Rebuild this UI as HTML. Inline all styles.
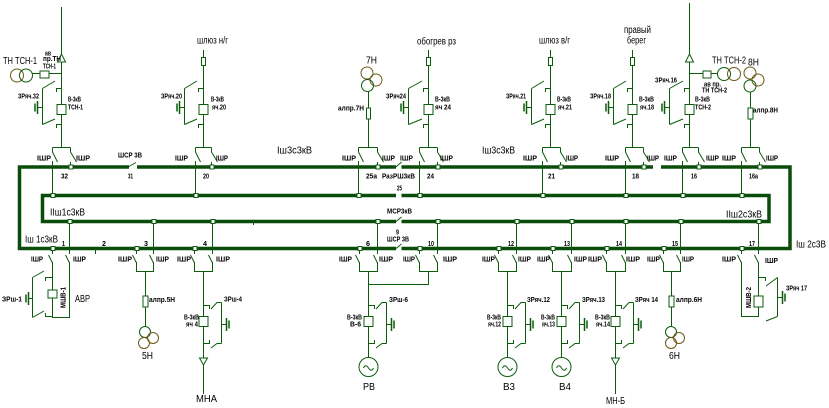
<!DOCTYPE html>
<html><head><meta charset="utf-8">
<style>
html,body{margin:0;padding:0;background:#fff;}
svg{display:block}
.s{font-family:"Liberation Sans",sans-serif;font-size:7px;font-weight:bold;fill:#000}
.m{font-family:"Liberation Sans",sans-serif;font-size:10px;fill:#000}
</style></head><body>
<svg width="829" height="408" viewBox="0 0 829 408" xmlns="http://www.w3.org/2000/svg">
<rect width="829" height="408" fill="#fff"/>

<!-- BUSES -->
<g fill="none" stroke="#0a4d0a" stroke-width="3.5">
 <path d="M129,167 H19.5 V248.5 H396"/>
 <path d="M137,167 H396"/>
 <path d="M401.5,167 H653"/>
 <path d="M661,167 H790 V248.5 H401.5"/>
 <path d="M396,195.5 H42.5 V221.5 H396"/>
 <path d="M401.5,195.5 H769 V221.5 H401.5"/>
</g>

<!-- THIN LINES -->
<g fill="none" stroke="#0c5c0c" stroke-width="1">
 <!-- bus switches -->
 <path d="M128,167 L136,162.5 M396,167 L401.5,162 M396,221.5 L401.5,217 M396,248.5 L401.5,244 M95.5,249 V254 M253.5,221 V225"/>

 <!-- T1 -->
 <path d="M61.5,7 V147.5 M61.5,73.5 H32.5 M56.5,92 V88.5 H61 M56.5,128 V124.5 H61 M42.5,88.5 L55,81 M42.5,124.5 L55,119 M42.5,88.5 V124.5 M37,107.5 H42.5 M52.5,147.5 H70.5 M52.5,147.5 V152 L57.5,162 M70.5,147.5 V152 L76.5,162 M52.5,161 V195 M70.5,162 V167"/>
 <!-- T2 -->
 <path d="M203.5,50 V147.5 M198.5,92 V88.5 H203 M198.5,128 V124.5 H203 M184.5,88.5 L197,81 M184.5,124.5 L197,119 M184.5,88.5 V124.5 M179,107.5 H184.5 M195.5,147.5 H211.5 M195.5,147.5 V152 L200.5,162 M211.5,147.5 V152 L217.5,162 M195.5,161 V195 M211.5,162 V167"/>
 <!-- T3 7H -->
 <path d="M368.5,91 V147.5 M358.5,147.5 H377.5 M358.5,147.5 V152 L363.5,162 M377.5,147.5 V152 L383.5,162 M358.5,161 V195 M377.5,162 V167"/>
 <!-- T4 -->
 <path d="M428.5,50 V147.5 M423.5,92 V88.5 H428 M423.5,128 V124.5 H428 M408.5,88.5 L422,81 M408.5,124.5 L422,119 M408.5,88.5 V124.5 M403,107.5 H408.5 M419.5,147.5 H437.5 M419.5,147.5 V152 L424.5,162 M437.5,147.5 V152 L443.5,162 M419.5,161 V195 M437.5,162 V167"/>
 <!-- T5 -->
 <path d="M550.5,50 V147.5 M545.5,92 V88.5 H550 M545.5,128 V124.5 H550 M531.5,88.5 L544,81 M531.5,124.5 L544,119 M531.5,88.5 V124.5 M526,107.5 H531.5 M542.5,147.5 H560.5 M542.5,147.5 V152 L547.5,162 M560.5,147.5 V152 L566.5,162 M542.5,161 V195 M560.5,162 V167"/>
 <!-- T6 -->
 <path d="M632.5,50 V147.5 M627.5,92 V88.5 H632 M627.5,128 V124.5 H632 M613.5,88.5 L626,81 M613.5,124.5 L626,119 M613.5,88.5 V124.5 M608,107.5 H613.5 M625.5,147.5 H643.5 M625.5,147.5 V152 L630.5,162 M643.5,147.5 V152 L649.5,162 M625.5,161 V195 M643.5,162 V167"/>
 <!-- T7 -->
 <path d="M689.5,3 V147.5 M689.5,73.5 H717.5 M684.5,92 V88.5 H689 M684.5,128 V124.5 H689 M669.5,88.5 L683,81 M669.5,124.5 L683,119 M669.5,88.5 V124.5 M664,107.5 H669.5 M682.5,147.5 H698.5 M682.5,147.5 V152 L687.5,162 M698.5,147.5 V152 L704.5,162 M682.5,161 V195 M698.5,162 V167"/>
 <!-- T8 8H -->
 <path d="M750.5,92 V147.5 M741.5,147.5 H759.5 M741.5,147.5 V152 L746.5,162 M759.5,147.5 V152 L765.5,162 M741.5,161 V195 M759.5,162 V167"/>

 <!-- B1 -->
 <path d="M52.5,249 V254 M48.5,255 L52.5,263 M52.5,262 V317.5 H69.5 V262 M65.5,255 L69.5,263 M69.5,222 V254 M52,277.5 H45.5 V281 M52,316.5 H45.5 V313 M32.5,277.5 L44,271 M32.5,317.5 L44,311 M32.5,277.5 V317.5 M28,298.5 H32.5"/>
 <!-- B3 5H -->
 <path d="M136.5,249 V254 M132.5,255 L136.5,263 M136.5,262 V271.5 H153.5 V262 M149.5,255 L153.5,263 M153.5,222 V254 M145.5,271.5 V326.5"/>
 <!-- B4 -->
 <path d="M194.5,249 V254 M190.5,255 L194.5,263 M194.5,262 V271.5 H212.5 V262 M208.5,255 L212.5,263 M212.5,222 V254 M203.5,271.5 V394 M203,305.5 H209.5 V309 M203,343.5 H209.5 V340 M211,309 L217,302.5 H221.5 M211,348 L217,343.5 H221.5 M221.5,302.5 V343.5 M221.5,324.5 H226"/>
 <!-- B6 -->
 <path d="M359.5,249 V254 M355.5,255 L359.5,263 M359.5,262 V271.5 H377.5 V262 M373.5,255 L377.5,263 M377.5,222 V254 M368.5,271.5 V357.5 M368.5,284.5 H428.5 V271.5 M368,305.5 H374.5 V309 M368,343.5 H374.5 V340 M376,309 L382,302.5 H386.5 M376,348 L382,343.5 H386.5 M386.5,302.5 V343.5 M386.5,324.5 H391"/>
 <!-- B10 -->
 <path d="M419.5,249 V254 M415.5,255 L419.5,263 M419.5,262 V271.5 H437.5 V262 M433.5,255 L437.5,263 M437.5,222 V254"/>
 <!-- B12 -->
 <path d="M498.5,249 V254 M494.5,255 L498.5,263 M498.5,262 V271.5 H516.5 V262 M512.5,255 L516.5,263 M516.5,222 V254 M507.5,271.5 V357.5 M507,305.5 H513.5 V309 M507,343.5 H513.5 V340 M515,309 L521,302.5 H525.5 M515,348 L521,343.5 H525.5 M525.5,302.5 V343.5 M525.5,324.5 H530"/>
 <!-- B13 -->
 <path d="M552.5,249 V254 M548.5,255 L552.5,263 M552.5,262 V271.5 H571.5 V262 M567.5,255 L571.5,263 M571.5,222 V254 M561.5,271.5 V357.5 M561,305.5 H567.5 V309 M561,343.5 H567.5 V340 M569,309 L575,302.5 H579.5 M569,348 L575,343.5 H579.5 M579.5,302.5 V343.5 M579.5,324.5 H584"/>
 <!-- B14 -->
 <path d="M606.5,249 V254 M602.5,255 L606.5,263 M606.5,262 V271.5 H625.5 V262 M621.5,255 L625.5,263 M625.5,222 V254 M615.5,271.5 V394 M615,305.5 H621.5 V309 M615,343.5 H621.5 V340 M623,309 L629,302.5 H633.5 M623,348 L629,343.5 H633.5 M633.5,302.5 V343.5 M633.5,324.5 H638"/>
 <!-- B15 6H -->
 <path d="M663.5,249 V254 M659.5,255 L663.5,263 M663.5,262 V271.5 H680.5 V262 M676.5,255 L680.5,263 M680.5,222 V254 M671.5,271.5 V326.5"/>
 <!-- B17 -->
 <path d="M741.5,249 V254 M737.5,255 L741.5,263 M741.5,262 V316.5 H758.5 V262 M754.5,255 L758.5,263 M758.5,222 V254 M758,277.5 H765.5 V281 M766,286 L777.5,277.5 M766,321 L777.5,316.5 M777.5,277.5 V316.5 M777.5,297.5 H782"/>

 <!-- generator tildes -->
 <path d="M363.5,368 c1.5,-3 3,-3 5,0 s3.5,3 5,0 M502.5,368 c1.5,-3 3,-3 5,0 s3.5,3 5,0 M556.5,368 c1.5,-3 3,-3 5,0 s3.5,3 5,0"/>
</g>

<!-- ground bars (thicker) -->
<g fill="none" stroke="#0c5c0c" stroke-width="1.5">
 <path d="M37.5,101 V114 M35,103.5 V111.5 M179.5,101 V114 M177,103.5 V111.5 M403.5,101 V114 M401,103.5 V111.5 M526.5,101 V114 M524,103.5 V111.5 M608.5,101 V114 M606,103.5 V111.5 M664.5,101 V114 M662,103.5 V111.5"/>
 <path d="M28.5,292 V305 M26,294.5 V302.5 M226.5,318 V331 M229,320.5 V328.5 M391.5,318 V331 M394,320.5 V328.5 M530.5,318 V331 M533,320.5 V328.5 M584.5,318 V331 M587,320.5 V328.5 M638.5,318 V331 M641,320.5 V328.5 M782.5,291 V304 M785,293.5 V301.5"/>
</g>

<!-- SHAPES (white filled) -->
<g fill="#fff" stroke="#0c5c0c" stroke-width="1">
 <!-- breakers top -->
 <rect x="57" y="104.5" width="9" height="10"/>
 <rect x="199" y="104.5" width="9" height="10"/>
 <rect x="424" y="104.5" width="9" height="10"/>
 <rect x="546" y="104.5" width="9" height="10"/>
 <rect x="628" y="104.5" width="9" height="10"/>
 <rect x="685" y="104.5" width="9" height="10"/>
 <!-- breakers bottom -->
 <rect x="48" y="290" width="9" height="8"/>
 <rect x="199" y="316.5" width="9" height="10"/>
 <rect x="364" y="316.5" width="9" height="10"/>
 <rect x="503" y="316.5" width="9" height="10"/>
 <rect x="557" y="316.5" width="9" height="10"/>
 <rect x="611" y="316.5" width="9" height="10"/>
 <rect x="754" y="296" width="9" height="11"/>
 <!-- fuses -->
 <rect x="40" y="71" width="9" height="7"/>
 <rect x="703" y="71" width="8" height="7"/>
 <rect x="366.5" y="108" width="4" height="11"/>
 <rect x="748" y="108" width="5" height="11"/>
 <rect x="143" y="296" width="5" height="11"/>
 <rect x="669" y="296" width="5" height="11"/>
 <!-- cable heads -->
 <rect x="201.5" y="57.5" width="4" height="8"/>
 <rect x="426.5" y="57.5" width="4" height="8"/>
 <rect x="548.5" y="57.5" width="4" height="8"/>
 <rect x="630.5" y="57.5" width="4" height="8"/>
 <!-- triangles -->
 <polygon points="57.5,62 65.5,62 61.5,54"/>
 <polygon points="685.5,62 693.5,62 689.5,54"/>
 <polygon points="199.5,358 207.5,358 203.5,365"/>
 <polygon points="611.5,358 619.5,358 615.5,365"/>
 <!-- markers top bus -->
 <rect x="69" y="165" width="4" height="4"/><rect x="210" y="165" width="4" height="4"/>
 <rect x="376" y="165" width="4" height="4"/><rect x="436" y="165" width="4" height="4"/>
 <rect x="559" y="165" width="4" height="4"/><rect x="642" y="165" width="4" height="4"/>
 <rect x="697" y="165" width="4" height="4"/><rect x="758" y="165" width="4" height="4"/>
 <!-- markers inner top -->
 <rect x="51" y="193.5" width="4" height="4"/><rect x="194" y="193.5" width="4" height="4"/>
 <rect x="357" y="193.5" width="4" height="4"/><rect x="418" y="193.5" width="4" height="4"/>
 <rect x="541" y="193.5" width="4" height="4"/><rect x="624" y="193.5" width="4" height="4"/>
 <rect x="681" y="193.5" width="4" height="4"/><rect x="740" y="193.5" width="4" height="4"/>
 <!-- markers bottom bus -->
 <rect x="51" y="246.5" width="4" height="4"/><rect x="135" y="246.5" width="4" height="4"/>
 <rect x="193" y="246.5" width="4" height="4"/><rect x="358" y="246.5" width="4" height="4"/>
 <rect x="418" y="246.5" width="4" height="4"/><rect x="497" y="246.5" width="4" height="4"/>
 <rect x="551" y="246.5" width="4" height="4"/><rect x="605" y="246.5" width="4" height="4"/>
 <rect x="662" y="246.5" width="4" height="4"/><rect x="740" y="246.5" width="4" height="4"/>
 <!-- markers inner bottom -->
 <rect x="68" y="219.5" width="4" height="4"/><rect x="152" y="219.5" width="4" height="4"/>
 <rect x="211" y="219.5" width="4" height="4"/><rect x="376" y="219.5" width="4" height="4"/>
 <rect x="436" y="219.5" width="4" height="4"/><rect x="515" y="219.5" width="4" height="4"/>
 <rect x="570" y="219.5" width="4" height="4"/><rect x="624" y="219.5" width="4" height="4"/>
 <rect x="679" y="219.5" width="4" height="4"/><rect x="757" y="219.5" width="4" height="4"/>
</g>

<!-- circles (transformers / generators) -->
<g fill="none" stroke-width="1">
 <circle cx="17" cy="75.5" r="6.5" stroke="#6b5a14"/>
 <circle cx="26" cy="75.5" r="6.5" stroke="#0c5c0c"/>
 <circle cx="724" cy="74" r="6.5" stroke="#0c5c0c"/>
 <circle cx="734" cy="74" r="6.5" stroke="#6b5a14"/>
 <circle cx="367" cy="73" r="6" stroke="#6b5a14"/>
 <circle cx="376" cy="80" r="6" stroke="#6b5a14"/>
 <circle cx="367.5" cy="85.5" r="6" stroke="#0c5c0c"/>
 <circle cx="750" cy="73" r="6" stroke="#6b5a14"/>
 <circle cx="758" cy="80" r="6" stroke="#6b5a14"/>
 <circle cx="750" cy="86" r="6" stroke="#0c5c0c"/>
 <circle cx="145" cy="332" r="5.5" stroke="#0c5c0c"/>
 <circle cx="153" cy="338" r="5.5" stroke="#6b5a14"/>
 <circle cx="144" cy="343" r="5.5" stroke="#6b5a14"/>
 <circle cx="671" cy="332" r="5.5" stroke="#0c5c0c"/>
 <circle cx="679" cy="338" r="5.5" stroke="#6b5a14"/>
 <circle cx="671" cy="343" r="5.5" stroke="#6b5a14"/>
 <circle cx="368.5" cy="367" r="9.5" stroke="#0c5c0c"/>
 <circle cx="507.5" cy="367" r="9.5" stroke="#0c5c0c"/>
 <circle cx="561.5" cy="367" r="9.5" stroke="#0c5c0c"/>
</g>

<!-- SMALL BOLD LABELS -->
<g class="s">
 <text x="18" y="98.5" textLength="21" lengthAdjust="spacingAndGlyphs">ЗРяч.32</text>
 <text x="68" y="101.5" textLength="13" lengthAdjust="spacingAndGlyphs">В-3кВ</text>
 <text x="68" y="109.5" textLength="15" lengthAdjust="spacingAndGlyphs">ТСН-1</text>
 <text x="45" y="55.5" textLength="6" lengthAdjust="spacingAndGlyphs">ав</text>
 <text x="43" y="61" textLength="18" lengthAdjust="spacingAndGlyphs">пр.ТН</text>
 <text x="43" y="68.5" textLength="13" lengthAdjust="spacingAndGlyphs">ТСН-1</text>
 <text x="161" y="98.5" textLength="21" lengthAdjust="spacingAndGlyphs">ЗРяч.20</text>
 <text x="211" y="101.5" textLength="13" lengthAdjust="spacingAndGlyphs">В-3кВ</text>
 <text x="212" y="109.5" textLength="14" lengthAdjust="spacingAndGlyphs">яч.20</text>
 <text x="338" y="110.5" textLength="26" lengthAdjust="spacingAndGlyphs">алпр.7Н</text>
 <text x="386" y="98.5" textLength="20" lengthAdjust="spacingAndGlyphs">ЗРяч24</text>
 <text x="435" y="101.5" textLength="15" lengthAdjust="spacingAndGlyphs">В-3кВ</text>
 <text x="435" y="109.5" textLength="16" lengthAdjust="spacingAndGlyphs">яч 24</text>
 <text x="506" y="98.5" textLength="20" lengthAdjust="spacingAndGlyphs">ЗРяч.21</text>
 <text x="557" y="101.5" textLength="14" lengthAdjust="spacingAndGlyphs">В-3кВ</text>
 <text x="558" y="109.5" textLength="14" lengthAdjust="spacingAndGlyphs">яч.21</text>
 <text x="590" y="98.5" textLength="21" lengthAdjust="spacingAndGlyphs">ЗРяч.18</text>
 <text x="639" y="101.5" textLength="15" lengthAdjust="spacingAndGlyphs">В-3кВ</text>
 <text x="640" y="109.5" textLength="14" lengthAdjust="spacingAndGlyphs">яч.18</text>
 <text x="655" y="82.5" textLength="22" lengthAdjust="spacingAndGlyphs">ЗРяч.16</text>
 <text x="704" y="86.5" textLength="17" lengthAdjust="spacingAndGlyphs">ав пр.</text>
 <text x="702" y="92.5" textLength="25" lengthAdjust="spacingAndGlyphs">ТН ТСН-2</text>
 <text x="695" y="101.5" textLength="15" lengthAdjust="spacingAndGlyphs">В-3кВ</text>
 <text x="695" y="109.5" textLength="16" lengthAdjust="spacingAndGlyphs">ТСН-2</text>
 <text x="753" y="112.5" textLength="25" lengthAdjust="spacingAndGlyphs">алпр.8Н</text>

 <!-- top ШР -->
 <text x="37" y="160.5" textLength="14" lengthAdjust="spacingAndGlyphs">IШР</text>
 <text x="76" y="160.5" textLength="14" lengthAdjust="spacingAndGlyphs">IШР</text>
 <text x="175" y="160.5" textLength="13" lengthAdjust="spacingAndGlyphs">IШР</text>
 <text x="216" y="160.5" textLength="12" lengthAdjust="spacingAndGlyphs">IШР</text>
 <text x="342" y="160.5" textLength="14" lengthAdjust="spacingAndGlyphs">IШР</text>
 <text x="382" y="160.5" textLength="13" lengthAdjust="spacingAndGlyphs">IШР</text>
 <text x="400" y="160.5" textLength="13" lengthAdjust="spacingAndGlyphs">IШР</text>
 <text x="440" y="160.5" textLength="13" lengthAdjust="spacingAndGlyphs">IШР</text>
 <text x="523" y="160.5" textLength="14" lengthAdjust="spacingAndGlyphs">IШР</text>
 <text x="566" y="160.5" textLength="12" lengthAdjust="spacingAndGlyphs">IШР</text>
 <text x="605" y="160.5" textLength="14" lengthAdjust="spacingAndGlyphs">IШР</text>
 <text x="647" y="160.5" textLength="12" lengthAdjust="spacingAndGlyphs">IШР</text>
 <text x="664" y="160.5" textLength="13" lengthAdjust="spacingAndGlyphs">IШР</text>
 <text x="706" y="160.5" textLength="13" lengthAdjust="spacingAndGlyphs">IШР</text>
 <text x="722" y="160.5" textLength="14" lengthAdjust="spacingAndGlyphs">IШР</text>
 <text x="766" y="160.5" textLength="12" lengthAdjust="spacingAndGlyphs">IШР</text>

 <!-- top numbers -->
 <text x="61" y="178.5" textLength="7" lengthAdjust="spacingAndGlyphs">32</text>
 <text x="128" y="178.5" textLength="5" lengthAdjust="spacingAndGlyphs">31</text>
 <text x="203" y="178.5" textLength="6" lengthAdjust="spacingAndGlyphs">20</text>
 <text x="366" y="178.5" textLength="11" lengthAdjust="spacingAndGlyphs">25а</text>
 <text x="382" y="178.5" textLength="33" lengthAdjust="spacingAndGlyphs">РазРШ3кВ</text>
 <text x="427" y="178.5" textLength="7" lengthAdjust="spacingAndGlyphs">24</text>
 <text x="548" y="178.5" textLength="7" lengthAdjust="spacingAndGlyphs">21</text>
 <text x="632" y="178.5" textLength="7" lengthAdjust="spacingAndGlyphs">18</text>
 <text x="691" y="178.5" textLength="6" lengthAdjust="spacingAndGlyphs">16</text>
 <text x="749" y="178.5" textLength="9" lengthAdjust="spacingAndGlyphs">16а</text>
 <text x="118" y="157.5" textLength="24" lengthAdjust="spacingAndGlyphs">ШСР 3В</text>
 <text x="397" y="190.5" textLength="5" lengthAdjust="spacingAndGlyphs">25</text>
 <text x="387" y="213.5" textLength="25" lengthAdjust="spacingAndGlyphs">МСР3кВ</text>
 <text x="396" y="234.5" textLength="3" lengthAdjust="spacingAndGlyphs">9</text>
 <text x="387" y="241.5" textLength="22" lengthAdjust="spacingAndGlyphs">ШСР 3В</text>

 <!-- bottom numbers -->
 <text x="62" y="246" textLength="3" lengthAdjust="spacingAndGlyphs">1</text>
 <text x="102" y="246" textLength="4" lengthAdjust="spacingAndGlyphs">2</text>
 <text x="144" y="246" textLength="4" lengthAdjust="spacingAndGlyphs">3</text>
 <text x="203" y="246" textLength="4" lengthAdjust="spacingAndGlyphs">4</text>
 <text x="366" y="246" textLength="4" lengthAdjust="spacingAndGlyphs">6</text>
 <text x="428" y="246" textLength="6" lengthAdjust="spacingAndGlyphs">10</text>
 <text x="508" y="246" textLength="6" lengthAdjust="spacingAndGlyphs">12</text>
 <text x="564" y="246" textLength="6" lengthAdjust="spacingAndGlyphs">13</text>
 <text x="616" y="246" textLength="6" lengthAdjust="spacingAndGlyphs">14</text>
 <text x="672" y="246" textLength="6" lengthAdjust="spacingAndGlyphs">15</text>
 <text x="749" y="246" textLength="6" lengthAdjust="spacingAndGlyphs">17</text>

 <!-- bottom ШР -->
 <text x="31" y="261.5" textLength="12" lengthAdjust="spacingAndGlyphs">IШР</text>
 <text x="73" y="261.5" textLength="13" lengthAdjust="spacingAndGlyphs">IШР</text>
 <text x="118" y="261.5" textLength="14" lengthAdjust="spacingAndGlyphs">IШР</text>
 <text x="156" y="261.5" textLength="13" lengthAdjust="spacingAndGlyphs">IШР</text>
 <text x="177" y="261.5" textLength="14" lengthAdjust="spacingAndGlyphs">IШР</text>
 <text x="216" y="261.5" textLength="14" lengthAdjust="spacingAndGlyphs">IШР</text>
 <text x="339" y="261.5" textLength="13" lengthAdjust="spacingAndGlyphs">IШР</text>
 <text x="379" y="261.5" textLength="14" lengthAdjust="spacingAndGlyphs">IШР</text>
 <text x="403" y="261.5" textLength="12" lengthAdjust="spacingAndGlyphs">IШР</text>
 <text x="443" y="261.5" textLength="14" lengthAdjust="spacingAndGlyphs">IШР</text>
 <text x="482" y="261.5" textLength="13" lengthAdjust="spacingAndGlyphs">IШР</text>
 <text x="518" y="261.5" textLength="13" lengthAdjust="spacingAndGlyphs">IШР</text>
 <text x="537" y="261.5" textLength="13" lengthAdjust="spacingAndGlyphs">IШР</text>
 <text x="574" y="261.5" textLength="13" lengthAdjust="spacingAndGlyphs">IШР</text>
 <text x="588" y="261.5" textLength="14" lengthAdjust="spacingAndGlyphs">IШР</text>
 <text x="626" y="261.5" textLength="14" lengthAdjust="spacingAndGlyphs">IШР</text>
 <text x="647" y="261.5" textLength="13" lengthAdjust="spacingAndGlyphs">IШР</text>
 <text x="682" y="261.5" textLength="12" lengthAdjust="spacingAndGlyphs">IШР</text>
 <text x="722" y="261.5" textLength="14" lengthAdjust="spacingAndGlyphs">IШР</text>
 <text x="765" y="263" textLength="13" lengthAdjust="spacingAndGlyphs">IШР</text>

 <!-- bottom earth/fuse labels -->
 <text x="2" y="301.5" textLength="20" lengthAdjust="spacingAndGlyphs">ЗРш-1</text>
 <text x="224" y="301.5" textLength="18" lengthAdjust="spacingAndGlyphs">ЗРш-4</text>
 <text x="389" y="302" textLength="19" lengthAdjust="spacingAndGlyphs">ЗРш-6</text>
 <text x="527" y="302" textLength="23" lengthAdjust="spacingAndGlyphs">ЗРяч.12</text>
 <text x="582" y="302" textLength="23" lengthAdjust="spacingAndGlyphs">ЗРяч.13</text>
 <text x="635" y="302" textLength="23" lengthAdjust="spacingAndGlyphs">ЗРяч 14</text>
 <text x="786" y="290.5" textLength="21" lengthAdjust="spacingAndGlyphs">ЗРяч 17</text>
 <text x="149" y="302" textLength="26" lengthAdjust="spacingAndGlyphs">алпр.5Н</text>
 <text x="676" y="302" textLength="26" lengthAdjust="spacingAndGlyphs">алпр.6Н</text>

 <!-- bottom breaker labels -->
 <text x="184" y="319.5" textLength="15" lengthAdjust="spacingAndGlyphs">В-3кВ</text>
 <text x="186" y="326.5" textLength="12" lengthAdjust="spacingAndGlyphs">яч 4</text>
 <text x="347" y="319.5" textLength="15" lengthAdjust="spacingAndGlyphs">В-3кВ</text>
 <text x="350" y="326.5" textLength="11" lengthAdjust="spacingAndGlyphs">В-6</text>
 <text x="487" y="319.5" textLength="14" lengthAdjust="spacingAndGlyphs">В-3кВ</text>
 <text x="488" y="326.5" textLength="13" lengthAdjust="spacingAndGlyphs">яч.12</text>
 <text x="541" y="319.5" textLength="14" lengthAdjust="spacingAndGlyphs">В-3кВ</text>
 <text x="542" y="326.5" textLength="13" lengthAdjust="spacingAndGlyphs">яч.13</text>
 <text x="595" y="319.5" textLength="15" lengthAdjust="spacingAndGlyphs">В-3кВ</text>
 <text x="596" y="326.5" textLength="14" lengthAdjust="spacingAndGlyphs">яч.14</text>

 <text transform="translate(65.5,308) rotate(-90)" textLength="21" lengthAdjust="spacingAndGlyphs">МШВ-1</text>
 <text transform="translate(751,308) rotate(-90)" textLength="21" lengthAdjust="spacingAndGlyphs">МШВ-2</text>
</g>

<!-- REGULAR LABELS -->
<g class="m">
 <text x="3" y="64" textLength="34" lengthAdjust="spacingAndGlyphs">ТН ТСН-1</text>
 <text x="197" y="43.5" textLength="31" lengthAdjust="spacingAndGlyphs">шлюз н/г</text>
 <text x="366" y="63.5" textLength="11" lengthAdjust="spacingAndGlyphs">7Н</text>
 <text x="417" y="44.5" textLength="39" lengthAdjust="spacingAndGlyphs">обогрев рз</text>
 <text x="539" y="43.5" textLength="31" lengthAdjust="spacingAndGlyphs">шлюз в/г</text>
 <text x="624" y="33" textLength="27" lengthAdjust="spacingAndGlyphs">правый</text>
 <text x="627" y="43.5" textLength="19" lengthAdjust="spacingAndGlyphs">берег</text>
 <text x="712" y="63.5" textLength="34" lengthAdjust="spacingAndGlyphs">ТН ТСН-2</text>
 <text x="748" y="65.5" textLength="11" lengthAdjust="spacingAndGlyphs">8Н</text>
 <text x="277" y="153.5" textLength="35" lengthAdjust="spacingAndGlyphs">Iш3с3кВ</text>
 <text x="482" y="153.5" textLength="33" lengthAdjust="spacingAndGlyphs">Iш3с3кВ</text>
 <text x="50" y="215.5" textLength="35" lengthAdjust="spacingAndGlyphs">IIш1с3кВ</text>
 <text x="25" y="242.5" textLength="33" lengthAdjust="spacingAndGlyphs">Iш 1с3кВ</text>
 <text x="726" y="217.5" textLength="36" lengthAdjust="spacingAndGlyphs">IIш2с3кВ</text>
 <text x="796" y="247.5" textLength="30" lengthAdjust="spacingAndGlyphs">Iш 2с3В</text>
 <text x="75" y="302" textLength="15" lengthAdjust="spacingAndGlyphs">АВР</text>
 <text x="142" y="359" textLength="11" lengthAdjust="spacingAndGlyphs">5Н</text>
 <text x="196" y="402" textLength="21" lengthAdjust="spacingAndGlyphs">МНА</text>
 <text x="363" y="390" textLength="12" lengthAdjust="spacingAndGlyphs">РВ</text>
 <text x="503" y="390" textLength="12" lengthAdjust="spacingAndGlyphs">В3</text>
 <text x="559" y="390" textLength="12" lengthAdjust="spacingAndGlyphs">В4</text>
 <text x="606" y="404" textLength="19" lengthAdjust="spacingAndGlyphs">МН-Б</text>
 <text x="669" y="359" textLength="11" lengthAdjust="spacingAndGlyphs">6Н</text>
</g>
</svg>
</body></html>
